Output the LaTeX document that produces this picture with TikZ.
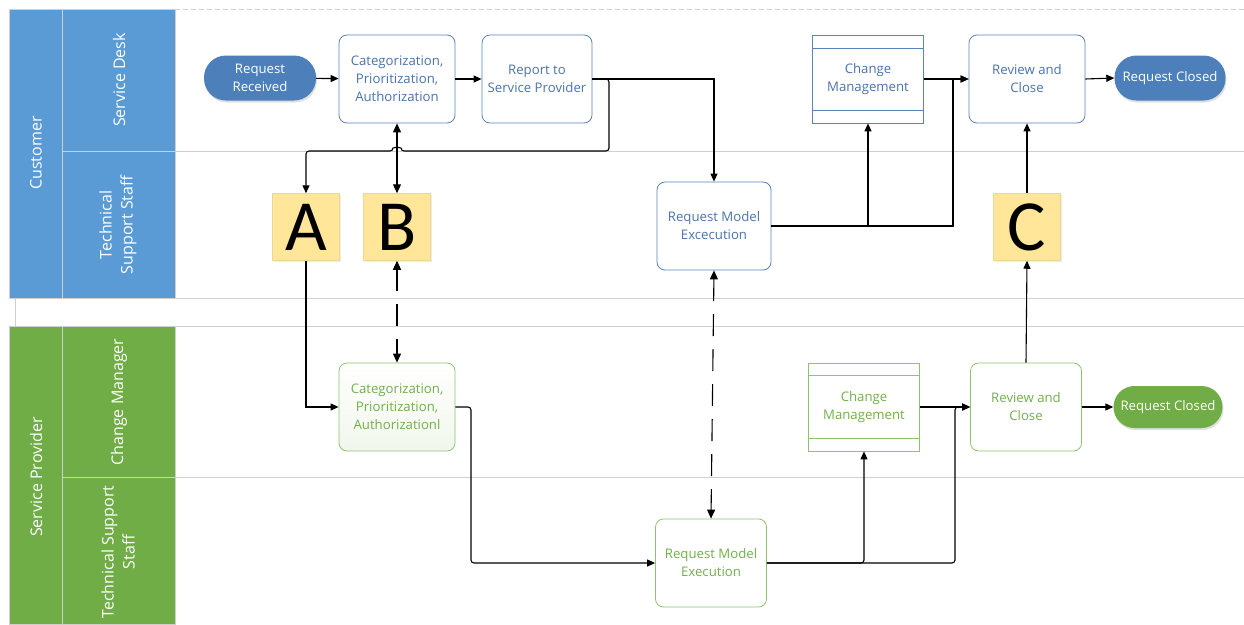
\documentclass[tikz,border=0pt]{standalone}
\usepackage{fontspec}
\setmainfont{Open Sans}
\newfontfamily\letterfont{Carlito}
\usetikzlibrary{arrows.meta,shadows,calc}
\definecolor{hdrblue}{HTML}{5B9BD5}
\definecolor{pillblue}{HTML}{4D80BA}
\definecolor{bordblue}{HTML}{5B83B9}
\definecolor{txtblue}{HTML}{4A74AA}
\definecolor{hdrgreen}{HTML}{70AD47}
\definecolor{bordgreen}{HTML}{8DC46C}
\definecolor{txtgreen}{HTML}{72B04B}
\definecolor{yel}{HTML}{FFE699}
\definecolor{lanegray}{HTML}{CFCFCF}
\tikzset{
  hdr/.style={draw=lanegray, line width=0.8pt},
  hdrtext/.style={text=white, rotate=90, align=center, font=\fontsize{16}{21}\selectfont},
  boxtext/.style={align=center, font=\fontsize{13.2}{18}\selectfont},
  procb/.style={boxtext, draw=bordblue, rounded corners=8pt, minimum width=116pt, minimum height=88pt, text=txtblue, line width=0.8pt, fill=white, inner sep=1pt},
  procg/.style={boxtext, draw=bordgreen, rounded corners=8pt, minimum width=112pt, minimum height=88pt, text=txtgreen, line width=0.8pt, fill=white, inner sep=1pt},
  subb/.style={boxtext, draw=bordblue, minimum width=111pt, minimum height=88pt, text=txtblue, line width=0.8pt, fill=white, inner sep=1pt},
  subg/.style={boxtext, draw=bordgreen, minimum width=111pt, minimum height=88pt, text=txtgreen, line width=0.8pt, fill=white, inner sep=1pt},
  pillb/.style={boxtext, fill=pillblue, text=white, rounded corners=22pt, minimum height=45pt, inner sep=1pt, drop shadow={opacity=0.25, shadow xshift=1pt, shadow yshift=-2pt}},
  pillg/.style={boxtext, fill=hdrgreen, text=white, rounded corners=21pt, minimum height=42pt, inner sep=1pt, drop shadow={opacity=0.25, shadow xshift=1pt, shadow yshift=-2pt}},
  letterbox/.style={fill=yel, draw=yel!85!gray, line width=0.5pt, minimum width=67pt, minimum height=67pt, inner sep=0pt, font=\letterfont\fontsize{72}{72}\selectfont, drop shadow={opacity=0.15, shadow xshift=1pt, shadow yshift=-1pt}},
  conn/.style={draw=black, line width=1.1pt, -{Triangle[length=8pt,width=7pt]}, rounded corners=3pt},
  dconn/.style={draw=black, line width=1.1pt, {Triangle[length=9pt,width=8pt]}-{Triangle[length=9pt,width=8pt]}},
  dashconn/.style={dconn, dash pattern=on 22pt off 13pt},
}
\begin{document}
\begin{tikzpicture}[x=1pt, y=-1pt]
\useasboundingbox (0,0) rectangle (1244,624);
\fill[white] (0,0) rectangle (1244,624);
% lane lines
\draw[lanegray, line width=0.8pt, dash pattern=on 5pt off 3pt] (175,9) -- (1244,9);
\draw[lanegray, line width=0.8pt] (175,151) -- (1244,151);
\draw[lanegray, line width=0.8pt] (9,298) -- (1244,298);
\draw[lanegray, line width=0.8pt] (15,326) -- (1244,326);
\draw[lanegray, line width=0.6pt] (15,298) -- (15,326);
\draw[lanegray, line width=0.8pt] (175,477) -- (1244,477);
% headers top
\filldraw[hdr, fill=hdrblue] (9,9) rectangle (62,298);
\filldraw[hdr, fill=hdrblue] (62,9) rectangle (175,151);
\filldraw[hdr, fill=hdrblue] (62,151) rectangle (175,298);
\node[hdrtext] (hcust) at (36,153) {Customer};
\node[hdrtext] (hsd) at (119,80) {Service Desk};
\node[hdrtext] (htss1) at (118,225) {Technical\\Support Staff};
% headers bottom
\filldraw[hdr, fill=hdrgreen] (9,326) rectangle (62,624);
\filldraw[hdr, fill=hdrgreen] (62,326) rectangle (175,477);
\filldraw[hdr, fill=hdrgreen] (62,477) rectangle (175,624);
\node[hdrtext] (hsp) at (36,477) {Service Provider};
\node[hdrtext] (hcm) at (119,402) {Change Manager};
\node[hdrtext] (htss2) at (118,552) {Technical Support\\Staff};
% top nodes
\node[pillb, minimum width=112pt] (rr) at (260,78) {Request\\Received};
\node[procb] (cat1) at (397,79) {Categorization,\\Prioritization,\\Authorization};
\node[procb, minimum width=110pt] (rep) at (537,79) {Report to\\Service Provider};
\node[subb] (cm1) at (868,79) {Change\\Management};
\node[procb] (rev1) at (1027,79) {Review and\\Close};
\node[pillb, minimum width=111pt] (cl1) at (1170,78) {Request Closed};
\node[letterbox] (A) at (306,227) {A};
\node[letterbox] (B) at (397,227) {B};
\node[procb, minimum width=114pt] (rme1) at (714,226) {Request Model\\Excecution};
\node[letterbox] (C) at (1027,227) {C};
% bottom nodes
\node[procg, minimum width=116pt, top color=white, bottom color=hdrgreen!10] (cat2) at (397,407) {Categorization,\\Prioritization,\\Authorizationl};
\node[subg] (cm2) at (864,407) {Change\\Management};
\node[procg, minimum width=111pt] (rev2) at (1026,407) {Review and\\Close};
\node[pillg, minimum width=109pt] (cl2) at (1168,407) {Request Closed};
\node[procg, minimum width=111pt] (rme2) at (711,563) {Request Model\\Execution};
% inner lines of subprocess boxes
\draw[bordblue, line width=0.8pt] ([yshift=-14pt]cm1.north west) -- ([yshift=-14pt]cm1.north east);
\draw[bordblue, line width=0.8pt] ([yshift=13pt]cm1.south west) -- ([yshift=13pt]cm1.south east);
\draw[bordgreen, line width=0.8pt] ([yshift=-13pt]cm2.north west) -- ([yshift=-13pt]cm2.north east);
\draw[bordgreen, line width=0.8pt] ([yshift=13pt]cm2.south west) -- ([yshift=13pt]cm2.south east);
% connectors top
\draw[conn] (rr) -- (cat1);
\draw[conn] (cat1) -- (rep);
\draw[conn, rounded corners=0pt] (rep.east) -| (rme1.north);
\draw[conn] (rep.east) -- (609,79) -- (609,151) -- (401,151) arc[start angle=0, end angle=180, radius=4pt] -- (306,151) -- (A.north);
\draw[dconn] (B.north) -- (cat1.south);
\draw[conn, rounded corners=0pt] (rme1.east) -| (cm1.south);
\draw[conn, rounded corners=0pt] (rme1.east) -- (953,226) |- (rev1.west);
\draw[conn] (cm1.east) -- (rev1.west);
\draw[conn] (rev1.east) -- (cl1.west);
\draw[conn] (C.north) -- (rev1.south);
% connectors between pools
\draw[dashconn] (B.south) -- (cat2.north);
\draw[dashconn] (rme1.south) -- (rme2.north);
\draw[conn, rounded corners=0pt] (A.south) |- (cat2.west);
\draw[conn] (rev2.north) -- (C.south);
% connectors bottom
\draw[conn] (cat2.east) -- (471,407) |- (rme2.west);
\draw[conn] (rme2.east) -| (cm2.south);
\draw[conn] (rme2.east) -- (955,563) |- (rev2.west);
\draw[conn] (cm2.east) -- (rev2.west);
\draw[conn] (rev2.east) -- (cl2.west);
\end{tikzpicture}
\end{document}
